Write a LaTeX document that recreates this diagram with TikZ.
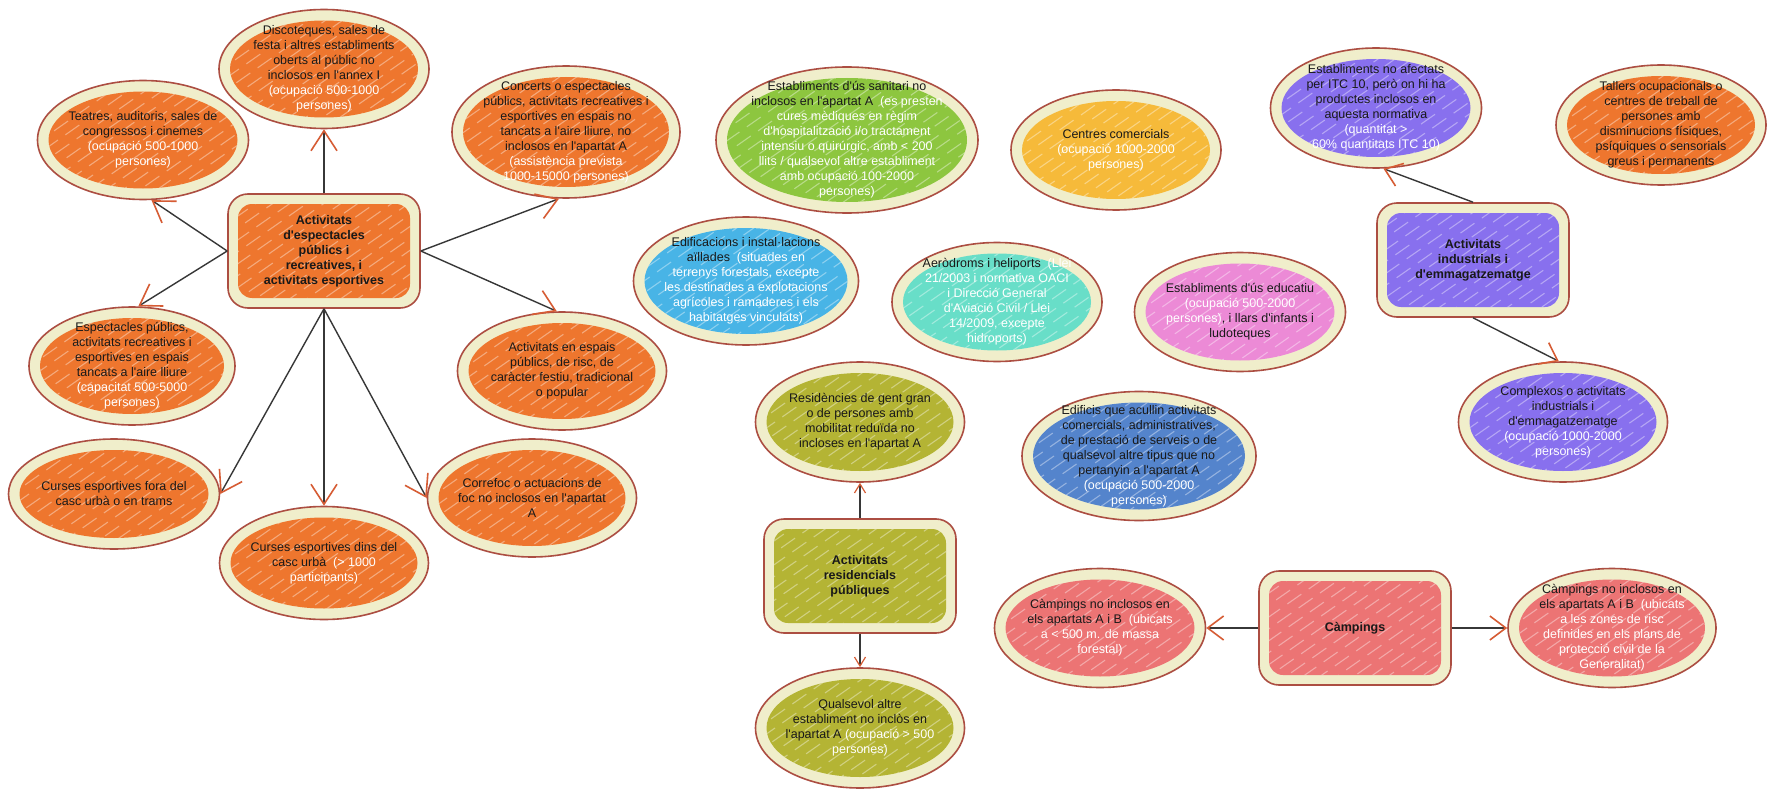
\documentclass[tikz,border=0pt]{standalone}
\usepackage{fontspec}
\setmainfont{Liberation Sans}[Ligatures=TeXOff]
\usetikzlibrary{shapes.geometric,arrows.meta,calc}

\definecolor{cream}{RGB}{240,238,203}
\definecolor{rim}{RGB}{172,78,66}
\definecolor{cOrange}{RGB}{238,118,46}
\definecolor{cGreen}{RGB}{141,198,63}
\definecolor{cYellow}{RGB}{246,186,58}
\definecolor{cBlue}{RGB}{72,180,230}
\definecolor{cTeal}{RGB}{104,222,200}
\definecolor{cPink}{RGB}{236,138,214}
\definecolor{cPurple}{RGB}{136,112,238}
\definecolor{cOlive}{RGB}{180,180,52}
\definecolor{cSteel}{RGB}{84,132,204}
\definecolor{cSalmon}{RGB}{236,116,116}
\definecolor{linec}{RGB}{55,55,55}
\definecolor{tipc}{RGB}{214,92,52}
\definecolor{txt}{RGB}{25,25,25}

\newcommand{\wt}[1]{\textcolor{white}{#1}}
\newcommand{\hatchlines}{%
  \foreach \k in {-15,...,15}{%
    \pgfmathsetmacro{\ph}{mod(\k*7+700,26)}%
    \draw[draw=white, draw opacity=.38, line width=1.1pt, sharp corners,
          dash pattern=on 17pt off 9pt, dash phase=\ph pt]
      ($(path picture bounding box.center)+(\k*17pt,0pt)+(215:210pt)$) -- ++(35:420pt);
  }%
}

\tikzset{
  bubble/.style={ellipse, draw=rim, line width=1.6pt, fill=cream, inner sep=-30pt,
    align=center, text=txt, font=\fontsize{12.5}{15}\selectfont,
    path picture={
      \begin{scope}
      \path[clip] let \p1=(path picture bounding box.south west),
                      \p2=(path picture bounding box.north east) in
         ($(\p1)!.5!(\p2)$) ellipse [x radius={0.5*(\x2-\x1)-11pt}, y radius={0.5*(\y2-\y1)-11pt}];
      \fill[#1, draw=none, sharp corners] (path picture bounding box.south west) rectangle (path picture bounding box.north east);
      \hatchlines
      \end{scope}}},
  hub/.style={rectangle, rounded corners=20pt, draw=rim, line width=1.6pt, fill=cream,
    inner sep=-20pt, align=center, text=txt, font=\fontsize{12.5}{15}\selectfont\bfseries,
    minimum width=192pt, minimum height=114pt,
    path picture={
      \begin{scope}
      \path[clip, rounded corners=14pt] ($(path picture bounding box.south west)+(10pt,10pt)$)
            rectangle ($(path picture bounding box.north east)+(-10pt,-10pt)$);
      \fill[#1, draw=none, sharp corners] (path picture bounding box.south west) rectangle (path picture bounding box.north east);
      \hatchlines
      \end{scope}}},
  conn/.style={draw=linec, line width=1.4pt,
    -{Straight Barb[length=20pt, width=26pt, line width=1.6pt, color=tipc]}},
  connm/.style={draw=linec, line width=1.4pt,
    -{Straight Barb[length=16pt, width=24pt, line width=1.6pt, color=tipc]}},
  conns/.style={draw=linec, line width=1.3pt,
    -{Straight Barb[length=9pt, width=11pt, line width=1.2pt, color=tipc]}},
}

\begin{document}
\begin{tikzpicture}[x=1pt,y=-1pt]
\useasboundingbox (0,0) rectangle (1775,797);
\fill[white] (0,0) rectangle (1775,797);

% ---- espectacles group
\node[hub=cOrange] (esp) at (324,251) {Activitats\\d'espectacles\\públics i\\recreatives, i\\activitats esportives};
\node[bubble=cOrange, minimum width=210pt, minimum height=119pt] (disco) at (324,69)
  {Discoteques, sales de\\festa i altres establiments\\oberts al públic no\\inclosos en l'annex I\\\wt{(ocupació 500-1000}\\\wt{persones)}};
\node[bubble=cOrange, minimum width=211pt, minimum height=119pt] (teatres) at (143,140)
  {Teatres, auditoris, sales de\\congressos i cinemes\\\wt{(ocupació 500-1000}\\\wt{persones)}};
\node[bubble=cOrange, minimum width=228pt, minimum height=132pt] (concerts) at (566,132)
  {Concerts o espectacles\\públics, activitats recreatives i\\esportives en espais no\\tancats a l'aire lliure, no\\inclosos en l'apartat A\\\wt{(assistència prevista}\\\wt{1000-15000 persones)}};
\node[bubble=cOrange, minimum width=206pt, minimum height=118pt] (espect) at (132,366)
  {Espectacles públics,\\activitats recreatives i\\esportives en espais\\tancats a l'aire lliure\\\wt{(capacitat 500-5000}\\\wt{persones)}};
\node[bubble=cOrange, minimum width=209pt, minimum height=118pt] (espais) at (562,371)
  {Activitats en espais\\públics, de risc, de\\caràcter festiu, tradicional\\o popular};
\node[bubble=cOrange, minimum width=211pt, minimum height=110pt] (fora) at (114,494)
  {Curses esportives fora del\\casc urbà o en trams};
\node[bubble=cOrange, minimum width=209pt, minimum height=113pt] (dins) at (324,563)
  {Curses esportives dins del\\casc urbà \ \wt{(> 1000}\\\wt{participants)}};
\node[bubble=cOrange, minimum width=209pt, minimum height=118pt] (correfoc) at (532,498)
  {Correfoc o actuacions de\\foc no inclosos en l'apartat\\A};

% ---- loose bubbles
\node[bubble=cGreen, minimum width=262pt, minimum height=146pt] (sanit) at (847,140)
  {Establiments d'ús sanitari no\\inclosos en l'apartat A \ \wt{(es presten}\\\wt{cures mèdiques en règim}\\\wt{d'hospitalització i/o tractament}\\\wt{intensiu o quirúrgic, amb < 200}\\\wt{llits / qualsevol altre establiment}\\\wt{amb ocupació 100-2000}\\\wt{persones)}};
\node[bubble=cYellow, minimum width=210pt, minimum height=120pt] (comerc) at (1116,150)
  {Centres comercials\\\wt{(ocupació 1000-2000}\\\wt{persones)}};
\node[bubble=cBlue, minimum width=225pt, minimum height=128pt] (aill) at (746,281)
  {Edificacions i instal·lacions\\aïllades \ \wt{(situades en}\\\wt{terrenys forestals, excepte}\\\wt{les destinades a explotacions}\\\wt{agrícoles i ramaderes i els}\\\wt{habitatges vinculats)}};
\node[bubble=cTeal, minimum width=210pt, minimum height=119pt] (aero) at (997,302)
  {Aeròdroms i heliports \ \wt{(Llei}\\\wt{21/2003 i normativa OACI}\\\wt{i Direcció General}\\\wt{d'Aviació Civil / Llei}\\\wt{14/2009, excepte}\\\wt{hidroports)}};
\node[bubble=cPink, minimum width=211pt, minimum height=119pt] (educ) at (1240,312)
  {Establiments d'ús educatiu\\\wt{(ocupació 500-2000}\\\wt{persones)}, i llars d'infants i\\ludoteques};
\node[bubble=cOrange, minimum width=210pt, minimum height=120pt] (tallers) at (1661,125)
  {Tallers ocupacionals o\\centres de treball de\\persones amb\\disminucions físiques,\\psíquiques o sensorials\\greus i permanents};
\node[bubble=cSteel, minimum width=234pt, minimum height=129pt] (edif) at (1139,456)
  {Edificis que acullin activitats\\comercials, administratives,\\de prestació de serveis o de\\qualsevol altre tipus que no\\pertanyin a l'apartat A\\\wt{(ocupació 500-2000}\\\wt{persones)}};

% ---- industrial group
\node[hub=cPurple] (indus) at (1473,260) {Activitats\\industrials i\\d'emmagatzematge};
\node[bubble=cPurple, minimum width=211pt, minimum height=120pt] (noafec) at (1376,108)
  {Establiments no afectats\\per ITC 10, però on hi ha\\productes inclosos en\\aquesta normativa\\\wt{(quantitat >}\\\wt{60\% quantitats ITC 10)}};
\node[bubble=cPurple, minimum width=209pt, minimum height=120pt] (complex) at (1563,422)
  {Complexos o activitats\\industrials i\\d'emmagatzematge\\\wt{(ocupació 1000-2000}\\\wt{persones)}};

% ---- residencial group
\node[hub=cOlive] (resh) at (860,576) {Activitats\\residencials\\públiques};
\node[bubble=cOlive, minimum width=209pt, minimum height=120pt] (resid) at (860,422)
  {Residències de gent gran\\o de persones amb\\mobilitat reduïda no\\incloses en l'apartat A};
\node[bubble=cOlive, minimum width=209pt, minimum height=120pt] (qualsevol) at (860,728)
  {Qualsevol altre\\establiment no inclòs en\\l'apartat A \wt{(ocupació > 500}\\\wt{persones)}};

% ---- campings group
\node[hub=cSalmon] (camph) at (1355,628) {Càmpings};
\node[bubble=cSalmon, minimum width=211pt, minimum height=119pt] (campl) at (1100,628)
  {Càmpings no inclosos en\\els apartats A i B \ \wt{(ubicats}\\\wt{a < 500 m. de massa}\\\wt{forestal)}};
\node[bubble=cSalmon, minimum width=208pt, minimum height=119pt] (campr) at (1612,628)
  {Càmpings no inclosos en\\els apartats A i B \ \wt{(ubicats}\\\wt{a les zones de risc}\\\wt{definides en els plans de}\\\wt{protecció civil de la}\\\wt{Generalitat)}};

% ---- connectors
\draw[conn] (esp.north) -- (disco.south);
\draw[conn] (esp.west) -- (teatres.-82);
\draw[conn] (esp.west) -- (espect.84);
\draw[conn] (esp.east) -- (concerts.-96);
\draw[conn] (esp.east) -- (espais.95);
\draw[conn] (esp.south) -- (fora.east);
\draw[conn] (esp.south) -- (dins.north);
\draw[conn] (esp.south) -- (correfoc.west);
\draw[connm] (indus.north) -- (noafec.-83);
\draw[connm] (indus.south) -- (complex.94);
\draw[conns] (resh.north) -- (resid.south);
\draw[conns] (resh.south) -- (qualsevol.north);
\draw[connm] (camph.west) -- (campl.east);
\draw[connm] (camph.east) -- (campr.west);
\end{tikzpicture}
\end{document}
